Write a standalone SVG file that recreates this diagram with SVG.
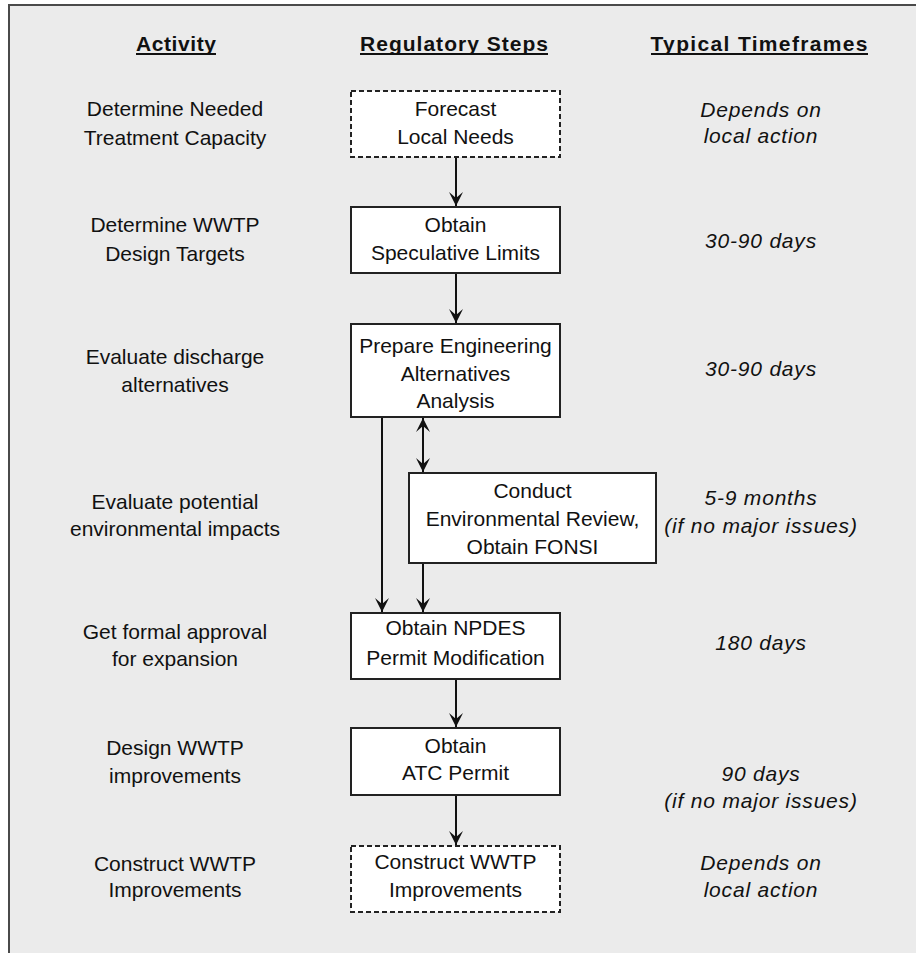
<svg xmlns="http://www.w3.org/2000/svg" width="916" height="953" viewBox="0 0 916 953">
<style>
.t{font-family:"Liberation Sans",Arial,sans-serif;font-size:21px;fill:#111;text-anchor:middle}
.h{font-family:"Liberation Sans",Arial,sans-serif;font-size:21px;font-weight:bold;fill:#111;text-anchor:middle}
.i{font-family:"Liberation Sans",Arial,sans-serif;font-size:21px;font-style:italic;letter-spacing:0.8px;fill:#111;text-anchor:middle}
.box{fill:#fff;stroke:#222;stroke-width:2}
.dash{fill:#fff;stroke:#222;stroke-width:2;stroke-dasharray:5,3}
.c{stroke:#111;stroke-width:2;fill:none}
.ul{stroke:#111;stroke-width:2}
</style>
<defs>
<marker id="arr" markerWidth="18" markerHeight="18" viewBox="-15 -9 18 18" refX="0" refY="0" orient="auto" markerUnits="userSpaceOnUse">
<path d="M0,0 L-14,-7 L-8,0 L-14,7 Z" fill="#111"/>
</marker>
<marker id="arrs" markerWidth="18" markerHeight="18" viewBox="-15 -9 18 18" refX="0" refY="0" orient="auto-start-reverse" markerUnits="userSpaceOnUse">
<path d="M0,0 L-14,-7 L-8,0 L-14,7 Z" fill="#111"/>
</marker>
</defs>
<rect x="0" y="0" width="916" height="953" fill="#fff"/>
<rect x="9" y="5" width="1000" height="1000" fill="#ebebeb" stroke="#4a4a4a" stroke-width="2"/>

<g id="headers">
<text class="h" x="176" y="51" textLength="80" lengthAdjust="spacing">Activity</text>
<line class="ul" x1="136" y1="54" x2="216" y2="54"/>
<text class="h" x="454" y="51" textLength="188" lengthAdjust="spacing">Regulatory Steps</text>
<line class="ul" x1="360" y1="54" x2="548" y2="54"/>
<text class="h" x="759" y="51" textLength="217" lengthAdjust="spacing">Typical Timeframes</text>
<line class="ul" x1="651" y1="54" x2="868" y2="54"/>
</g>

<g id="activities">
<text class="t" x="175" y="116">Determine Needed</text>
<text class="t" x="175" y="145">Treatment Capacity</text>
<text class="t" x="175" y="232">Determine WWTP</text>
<text class="t" x="175" y="261">Design Targets</text>
<text class="t" x="175" y="364">Evaluate discharge</text>
<text class="t" x="175" y="392">alternatives</text>
<text class="t" x="175" y="509">Evaluate potential</text>
<text class="t" x="175" y="536">environmental impacts</text>
<text class="t" x="175" y="639">Get formal approval</text>
<text class="t" x="175" y="666">for expansion</text>
<text class="t" x="175" y="755">Design WWTP</text>
<text class="t" x="175" y="783">improvements</text>
<text class="t" x="175" y="871">Construct WWTP</text>
<text class="t" x="175" y="897">Improvements</text>
</g>

<g id="timeframes">
<text class="i" x="761" y="117">Depends on</text>
<text class="i" x="761" y="143">local action</text>
<text class="i" x="761" y="248">30-90 days</text>
<text class="i" x="761" y="376">30-90 days</text>
<text class="i" x="761" y="505">5-9 months</text>
<text class="i" x="761" y="533">(if no major issues)</text>
<text class="i" x="761" y="650">180 days</text>
<text class="i" x="761" y="781">90 days</text>
<text class="i" x="761" y="808">(if no major issues)</text>
<text class="i" x="761" y="870">Depends on</text>
<text class="i" x="761" y="897">local action</text>
</g>

<g id="connectors">
<line class="c" x1="456" y1="157" x2="456" y2="206" marker-end="url(#arr)"/>
<line class="c" x1="456" y1="273" x2="456" y2="323" marker-end="url(#arr)"/>
<line class="c" x1="382" y1="417" x2="382" y2="612" marker-end="url(#arr)"/>
<line class="c" x1="423" y1="418" x2="423" y2="472" marker-start="url(#arrs)" marker-end="url(#arr)"/>
<line class="c" x1="423" y1="563" x2="423" y2="612" marker-end="url(#arr)"/>
<line class="c" x1="456" y1="679" x2="456" y2="727" marker-end="url(#arr)"/>
<line class="c" x1="456" y1="795" x2="456" y2="845" marker-end="url(#arr)"/>
</g>

<g id="forecast">
<rect class="dash" x="351" y="91" width="209" height="66"/>
<text class="t" x="455.5" y="116">Forecast</text>
<text class="t" x="455.5" y="144">Local Needs</text>
</g>
<g id="speculative">
<rect class="box" x="351" y="207" width="209" height="66"/>
<text class="t" x="455.5" y="232">Obtain</text>
<text class="t" x="455.5" y="260">Speculative Limits</text>
</g>
<g id="prepare">
<rect class="box" x="351" y="324" width="209" height="93"/>
<text class="t" x="455.5" y="353">Prepare Engineering</text>
<text class="t" x="455.5" y="381">Alternatives</text>
<text class="t" x="455.5" y="408">Analysis</text>
</g>
<g id="conduct">
<rect class="box" x="409" y="473" width="247" height="90"/>
<text class="t" x="532.5" y="498">Conduct</text>
<text class="t" x="532.5" y="526">Environmental Review,</text>
<text class="t" x="532.5" y="554">Obtain FONSI</text>
</g>
<g id="npdes">
<rect class="box" x="351" y="613" width="209" height="66"/>
<text class="t" x="455.5" y="635">Obtain NPDES</text>
<text class="t" x="455.5" y="665">Permit  Modification</text>
</g>
<g id="atc">
<rect class="box" x="351" y="728" width="209" height="67"/>
<text class="t" x="455.5" y="753">Obtain</text>
<text class="t" x="455.5" y="780">ATC Permit</text>
</g>
<g id="construct">
<rect class="dash" x="351" y="846" width="209" height="66"/>
<text class="t" x="455.5" y="869">Construct WWTP</text>
<text class="t" x="455.5" y="897">Improvements</text>
</g>
</svg>
